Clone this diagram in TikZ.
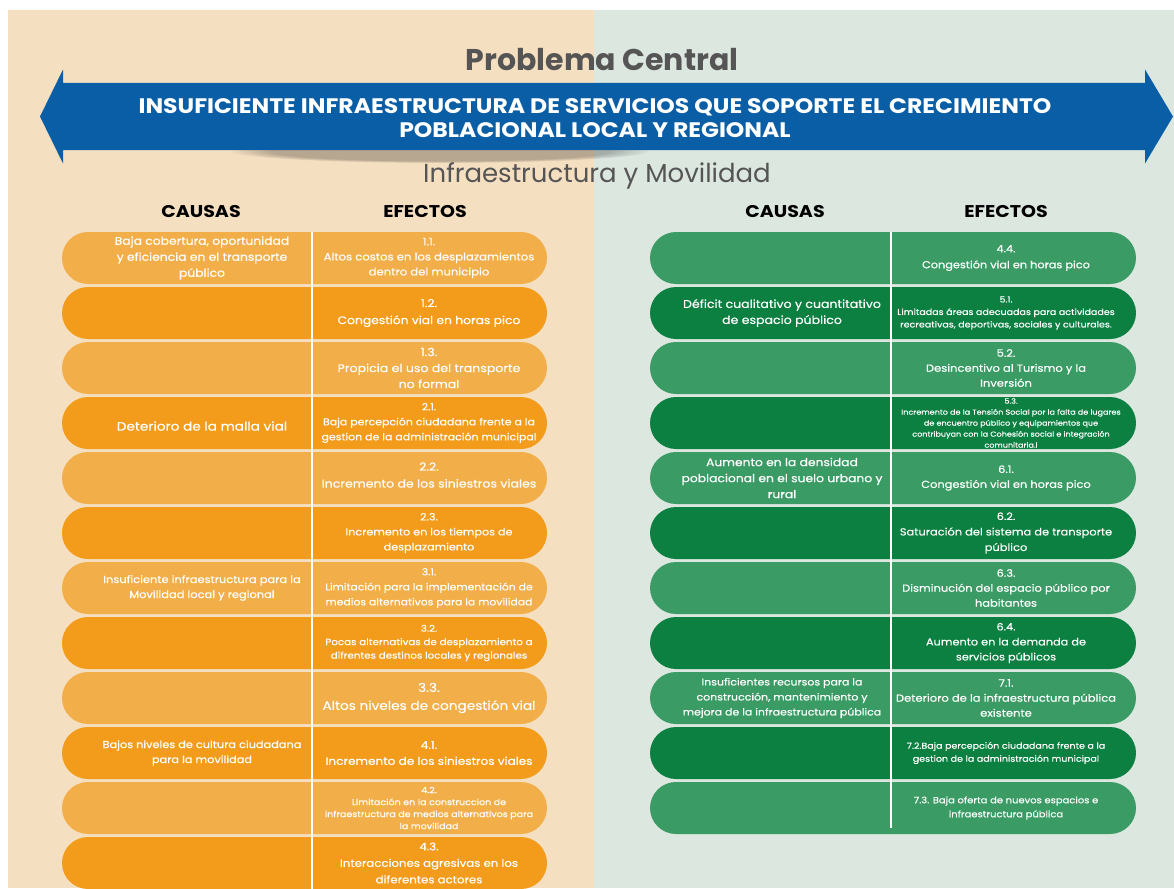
\documentclass[tikz,border=0pt]{standalone}
\usepackage{fontspec}
\setmainfont{Poppins}[FakeStretch=1.12, UprightFeatures={FakeBold=0.35}]
\newfontfamily\titlefont{Poppins}
\usepackage{xcolor}
\usetikzlibrary{positioning,calc,fadings}

\definecolor{bgL}{HTML}{F5DFC1}
\definecolor{bgR}{HTML}{DCE7E0}
\definecolor{orL}{HTML}{F2AE48}
\definecolor{orD}{HTML}{F39C1B}
\definecolor{grL}{HTML}{3A9B64}
\definecolor{grD}{HTML}{0B8040}
\definecolor{banner}{HTML}{0A5EA6}
\definecolor{titlegray}{HTML}{555555}

\begin{document}
\begin{tikzpicture}[
    x=1pt, y=-1pt,
    pill/.style={fill=#1, rounded corners=26pt, minimum height=52pt, inner sep=0pt},
    pillL/.style={pill=#1, minimum width=485pt},
    pillR/.style={pill=#1, minimum width=486pt},
    cell/.style={text=white, align=center, inner sep=0pt},
    fs/.style 2 args={font=\fontsize{#1}{#2}\selectfont},
    colhead/.style={font=\fontsize{17}{19}\selectfont\bfseries, text=black},
    divider/.style={draw=white, line width=1.2pt},
  ]
  \def\rowgap{55}  % row pitch
  \useasboundingbox (0,0) rectangle (1174,888);

  % --- Background ---
  \fill[white] (0,0) rectangle (1174,888);
  \fill[bgL] (8,10) rectangle (594,888);
  \fill[bgR] (594,10) rectangle (1174,888);

  % --- Header ---
  \node[font=\titlefont\fontsize{30}{32}\selectfont\bfseries, text=titlegray] (prob) at (602,60) {Problema Central};
  \fill[black, opacity=0.25, path fading=circle with fuzzy edge 20 percent] (440,151) ellipse [x radius=210, y radius=12];
  \fill[banner] (40,116.5) -- (63,69.5) -- (63,83) -- (1145,83) -- (1145,69.5) -- (1173,116.5)
    -- (1145,163.5) -- (1145,150) -- (63,150) -- (63,163.5) -- cycle;
  \node[text=white, align=center, font=\fontsize{21}{24}\selectfont\bfseries] (central) at (595,118)
    {INSUFICIENTE INFRAESTRUCTURA DE SERVICIOS QUE SOPORTE EL CRECIMIENTO\\POBLACIONAL LOCAL Y REGIONAL};
  \node[font=\titlefont\fontsize{26}{28}\selectfont, text=titlegray] (eje) at (597,176) {Infraestructura y Movilidad};

  \node[colhead] (causasL) at (201,212) {CAUSAS};
  \node[colhead] (efectosL) at (425,212) {EFECTOS};
  \node[colhead] (causasR) at (785,212) {CAUSAS};
  \node[colhead] (efectosR) at (1006,212) {EFECTOS};

  % --- Rows ---
  \foreach \i/\c in {1/orL,2/orD,3/orL,4/orD,5/orL,6/orD,7/orL,8/orD,9/orL,10/orD,11/orL,12/orD} {
    \node[pillL=\c] (l\i) at (304.5,{258+\rowgap*(\i-1)}) {};
  }
  \foreach \i/\c in {1/grL,2/grD,3/grL,4/grD,5/grL,6/grD,7/grL,8/grD,9/grL,10/grD,11/grL} {
    \node[pillR=\c] (r\i) at (893,{258+\rowgap*(\i-1)}) {};
  }
  \draw[divider] ($(l1.north)+(7.5,0)$) -- ($(l12.south)+(7.5,0)$);
  \draw[divider] ($(r1.north)+(-2,0)$) -- ($(r11.south)+(-2,-6)$);

  % --- Left: causes ---
  \node[cell, fs={11}{16}, xshift=-102.5pt] (lc1) at (l1.center) {Baja cobertura, oportunidad\\y eficiencia en el transporte\\público};
  \node[cell, fs={12.2}{16}, xshift=-102.5pt, yshift=-3pt] (lc4) at (l4.center) {Deterioro de la malla vial};
  \node[cell, fs={10.2}{15}, xshift=-102.5pt] (lc7) at (l7.center) {Insuficiente infraestructura para la\\Movilidad local y regional};
  \node[cell, fs={10.1}{15}, xshift=-102.5pt] (lc10) at (l10.center) {Bajos niveles de cultura ciudadana\\para la movilidad};

  % --- Left: effects ---
  \node[cell, fs={10.4}{15}, xshift=124.5pt] (le1) at (l1.center) {1.1.\\Altos costos en los desplazamientos\\dentro del municipio};
  \node[cell, fs={11}{17}, xshift=124.5pt] (le2) at (l2.center) {1.2.\\Congestión vial en horas pico};
  \node[cell, fs={11.2}{16}, xshift=124.5pt] (le3) at (l3.center) {1.3.\\Propicia el uso del transporte\\no formal};
  \node[cell, fs={9.8}{15}, xshift=124.5pt] (le4) at (l4.center) {2.1.\\Baja percepción ciudadana frente a la\\gestion de la administración municipal};
  \node[cell, fs={11.2}{17}, xshift=124.5pt, yshift=3pt] (le5) at (l5.center) {2.2.\\Incremento de los siniestros viales};
  \node[cell, fs={10}{15}, xshift=124.5pt] (le6) at (l6.center) {2.3.\\Incremento en los tiempos de\\desplazamiento};
  \node[cell, fs={9.7}{15}, xshift=124.5pt] (le7) at (l7.center) {3.1.\\Limitación para la implementación de\\medios alternativos para la movilidad};
  \node[cell, fs={9.2}{13.5}, xshift=124.5pt] (le8) at (l8.center) {3.2.\\Pocas alternativas de desplazamiento a\\difrentes destinos locales y regionales};
  \node[cell, fs={12.2}{18}, xshift=124.5pt] (le9) at (l9.center) {3.3.\\Altos niveles de congestión vial};
  \node[cell, fs={10.8}{16}, xshift=124.5pt] (le10) at (l10.center) {4.1.\\Incremento de los siniestros viales};
  \node[cell, fs={8.5}{12}, xshift=124.5pt] (le11) at (l11.center) {4.2.\\Limitación en la construccion de\\infraestructura de medios alternativos para\\la movilidad};
  \node[cell, fs={10.5}{16.5}, xshift=124.5pt] (le12) at (l12.center) {4.3.\\Interacciones agresivas en los\\diferentes actores};

  % --- Right: causes ---
  \node[cell, fs={11.2}{16}, xshift=-111pt] (rc2) at (r2.center) {Déficit cualitativo y cuantitativo\\de espacio público};
  \node[cell, fs={11}{16}, xshift=-111pt] (rc5) at (r5.center) {Aumento en la densidad\\poblacional en el suelo urbano y\\rural};
  \node[cell, fs={9.8}{15}, xshift=-111pt] (rc9) at (r9.center) {Insuficientes recursos para la\\construcción, mantenimiento y\\mejora de la infraestructura pública};

  % --- Right: effects ---
  \node[cell, fs={10.1}{16}, xshift=113pt] (re1) at (r1.center) {4.4.\\Congestión vial en horas pico};
  \node[cell, fs={8.5}{12.5}, xshift=113pt] (re2) at (r2.center) {5.1.\\Limitadas áreas adecuadas para actividades\\recreativas, deportivas, sociales y culturales.};
  \node[cell, fs={10.3}{15}, xshift=113pt] (re3) at (r3.center) {5.2.\\Desincentivo al Turismo y la\\Inversión};
  \node[cell, fs={7.2}{11}, xshift=118pt] (re4) at (r4.center) {5.3.\\Incremento de la Tensión Social por la falta de lugares\\de encuentro público y equipamientos que\\contribuyan con la Cohesión social e integración\\comunitaria.l};
  \node[cell, fs={10.2}{15}, xshift=113pt] (re5) at (r5.center) {6.1.\\Congestión vial en horas pico};
  \node[cell, fs={10.2}{15.5}, xshift=113pt] (re6) at (r6.center) {6.2.\\Saturación del sistema de transporte\\público};
  \node[cell, fs={10.2}{15}, xshift=113pt] (re7) at (r7.center) {6.3.\\Disminución del espacio público por\\habitantes};
  \node[cell, fs={10.1}{15}, xshift=113pt] (re8) at (r8.center) {6.4.\\Aumento en la demanda de\\servicios públicos};
  \node[cell, fs={10.3}{15}, xshift=113pt] (re9) at (r9.center) {7.1.\\Deterioro de la infraestructura pública\\existente};
  \node[cell, fs={8.5}{13}, xshift=113pt] (re10) at (r10.center) {7.2.Baja percepción ciudadana frente a la\\gestion de la administración municipal};
  \node[cell, fs={8.9}{14}, xshift=113pt] (re11) at (r11.center) {7.3. Baja oferta de nuevos espacios e\\infraestructura pública};
\end{tikzpicture}
\end{document}
